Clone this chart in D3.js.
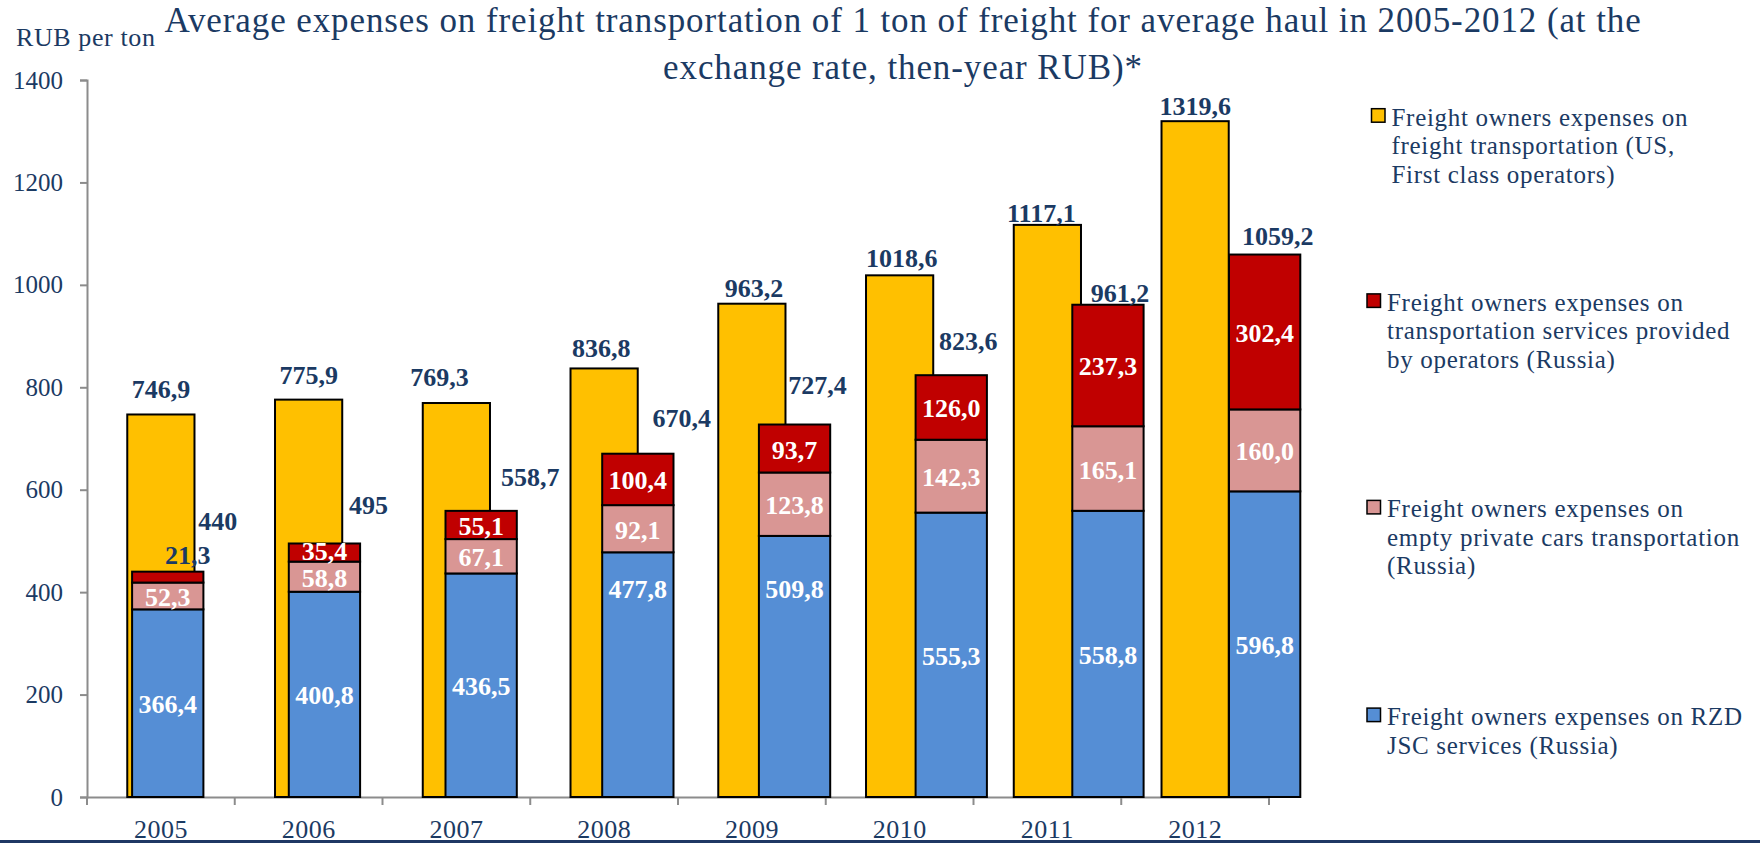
<!DOCTYPE html>
<html><head><meta charset="utf-8">
<script src="https://cdn.jsdelivr.net/npm/d3@7"></script>
<style>
html,body{margin:0;padding:0;background:#fff;}
svg{display:block;}
text{font-family:"Liberation Serif","Times New Roman",serif;}
</style></head>
<body>
<svg id="chart" width="1760" height="843"></svg>
<script>
// ---------- data ----------
const years = ["2005","2006","2007","2008","2009","2010","2011","2012"];
const usExpenses   = [746.9, 775.9, 769.3, 836.8, 963.2, 1018.6, 1117.1, 1319.6];
const rzdServices  = [366.4, 400.8, 436.5, 477.8, 509.8, 555.3, 558.8, 596.8];
const emptyCars    = [52.3, 58.8, 67.1, 92.1, 123.8, 142.3, 165.1, 160.0];
const operators    = [21.3, 35.4, 55.1, 100.4, 93.7, 126.0, 237.3, 302.4];
const russiaTotals = [440, 495, 558.7, 670.4, 727.4, 823.6, 961.2, 1059.2];
const yTicks = [0, 200, 400, 600, 800, 1000, 1200, 1400];
const titleLines = ["Average expenses on freight transportation of 1 ton of freight for average haul in 2005-2012 (at the",
                    "exchange rate, then-year RUB)*"];
const unitLabel = "RUB per ton";
const legendItems = [
  {key:"us",   lines:["Freight owners expenses on","freight transportation (US,","First class operators)"]},
  {key:"op",   lines:["Freight owners expenses on","transportation services provided","by operators (Russia)"]},
  {key:"empty",lines:["Freight owners expenses on","empty private cars transportation","(Russia)"]},
  {key:"rzd",  lines:["Freight owners expenses on RZD","JSC services (Russia)"]}
];

// ---------- layout (label nudges, px) ----------
const usLabelShift    = [[0,-25],[0,-25],[-17,-26],[-3,-20],[2,-16],[2,-17],[-6,-12],[0,-15]];
const totalLabelShift = [[50,-51],[44,-38],[49,-34],[44,-36],[23,-39],[17,-34],[12,-12],[13,-19]];
const rzdLabelShift   = [0,0,0,-87,-78,0,0,0];
const colors = {us:"#FFC000", op:"#C00000", empty:"#D99694", rzd:"#558ED5"};
const navy = "#1B3A63";
const fmt = v => v.toFixed(1).replace(".", ",");
const fmtTotal = v => Number.isInteger(v) ? String(v) : fmt(v);

const svg = d3.select("#chart");

const y = d3.scaleLinear().domain([0,1400]).range([797,80]);
const xPrim = d3.scaleBand().domain(years).range([87,1269]);
const xSec  = d3.scaleBand().domain(years).range([89.4,1343]);
const wPrim = xPrim.bandwidth()*0.455;
const wSec  = xSec.bandwidth()*0.455;
const cPrim = d => xPrim(d) + xPrim.bandwidth()/2;
const cSec  = d => xSec(d) + xSec.bandwidth()/2;

// bottom navy rule
svg.append("rect").attr("x",0).attr("y",840).attr("width",1760).attr("height",3).attr("fill","#1F3864");

// title
svg.append("g").selectAll("text").data(titleLines).join("text")
  .attr("x",903).attr("y",(d,i)=>32+i*46.7)
  .attr("text-anchor","middle").attr("font-size",35).attr("letter-spacing",0.9)
  .attr("fill",navy).text(d=>d);
svg.append("text").attr("x",16).attr("y",46).attr("font-size",26).attr("letter-spacing",0.6)
  .attr("fill",navy).text(unitLabel);

// y axis
const yAxis = d3.axisLeft(y).tickValues(yTicks).tickSize(7).tickPadding(17).tickFormat(d3.format("d"));
const gy = svg.append("g").attr("transform","translate(87,0)").call(yAxis);
gy.select(".domain").attr("stroke","#8C8C8C").attr("stroke-width",2);
gy.selectAll(".tick line").attr("stroke","#8C8C8C").attr("stroke-width",2);
gy.selectAll(".tick text").attr("font-size",25).attr("fill",navy).attr("font-family","Liberation Serif");

// x axis
const xAxis = d3.axisBottom(xPrim).tickSize(0).tickPadding(0).tickFormat("");
const gx = svg.append("g").attr("transform","translate(0,797)").call(xAxis);
gx.select(".domain").attr("stroke","#8C8C8C").attr("stroke-width",2);
gx.selectAll(".tick").remove();
const bounds = years.map(d=>xPrim(d)).concat([xPrim.range()[1]]);
gx.selectAll("line.bt").data(bounds).join("line").attr("class","bt")
  .attr("x1",d=>d).attr("x2",d=>d).attr("y1",0).attr("y2",8)
  .attr("stroke","#8C8C8C").attr("stroke-width",2);
svg.append("g").selectAll("text").data(years).join("text")
  .attr("x",d=>cPrim(d)).attr("y",838).attr("text-anchor","middle")
  .attr("font-size",26).attr("letter-spacing",0.5).attr("fill",navy).text(d=>d);

// US bars
svg.append("g").selectAll("rect").data(years).join("rect")
  .attr("x",d=>cPrim(d)-wPrim/2).attr("width",wPrim)
  .attr("y",(d,i)=>y(usExpenses[i])).attr("height",(d,i)=>y(0)-y(usExpenses[i]))
  .attr("fill",colors.us).attr("stroke","#000").attr("stroke-width",2);

// stacked Russian bars
const stackRows = years.map((d,i)=>({year:d, rzd:rzdServices[i], empty:emptyCars[i], op:operators[i]}));
const stack = d3.stack().keys(["rzd","empty","op"])(stackRows);
const gs = svg.append("g");
stack.forEach(layer=>{
  gs.append("g").selectAll("rect").data(layer).join("rect")
    .attr("x",d=>cSec(d.data.year)-wSec/2).attr("width",wSec)
    .attr("y",d=>y(d[1])).attr("height",d=>y(d[0])-y(d[1]))
    .attr("fill",colors[layer.key]).attr("stroke","#000").attr("stroke-width",2);
});

// labels
const lab = svg.append("g").attr("font-weight","bold").attr("font-size",26).attr("text-anchor","middle");
const dyC = 9; // baseline offset to vertically center digits
lab.selectAll("text.us").data(years).join("text").attr("class","us")
  .attr("x",(d,i)=>cPrim(d)+usLabelShift[i][0]).attr("y",(d,i)=>y(usExpenses[i])+usLabelShift[i][1]+dyC)
  .attr("fill",navy).text((d,i)=>fmt(usExpenses[i]));
lab.selectAll("text.tot").data(years).join("text").attr("class","tot")
  .attr("x",(d,i)=>cSec(d)+totalLabelShift[i][0]).attr("y",(d,i)=>y(russiaTotals[i])+totalLabelShift[i][1]+dyC)
  .attr("fill",navy).text((d,i)=>fmtTotal(russiaTotals[i]));
stack.forEach(layer=>{
  lab.selectAll("text.s"+layer.key).data(layer).join("text").attr("class","s"+layer.key)
    .attr("x",(d,i)=>{
      let x = cSec(d.data.year);
      if(layer.key==="op" && i===0) x += 20;
      return x;})
    .attr("y",(d,i)=>{
      let yy = (y(d[0])+y(d[1]))/2 + dyC + 1;
      if(layer.key==="rzd") yy += rzdLabelShift[i];
      if(layer.key==="op" && i===0) yy -= 23;
      if(layer.key==="op" && i===1) yy -= 3;
      return yy;})
    .attr("fill",(d,i)=> (layer.key==="op" && i===0) ? navy : "#fff")
    .text(d=>fmt(d[1]-d[0]));
});

// legend
const legendBase = [125.7, 310.9, 517.4, 725.1];
const lg = svg.append("g");
legendItems.forEach((it,k)=>{
  const shift = k===0 ? 4.5 : 0;
  const g = lg.append("g").attr("transform",`translate(${1367+shift},${legendBase[k]})`);
  g.append("rect").attr("x",0).attr("y",-17).attr("width",13.5).attr("height",13.5)
    .attr("fill",colors[it.key]).attr("stroke","#000").attr("stroke-width",1.5);
  g.selectAll("text").data(it.lines).join("text")
    .attr("x",20).attr("y",(d,i)=>i*28.5).attr("font-size",25).attr("letter-spacing",0.7)
    .attr("fill",navy).text(d=>d);
});
</script>
</body></html>
